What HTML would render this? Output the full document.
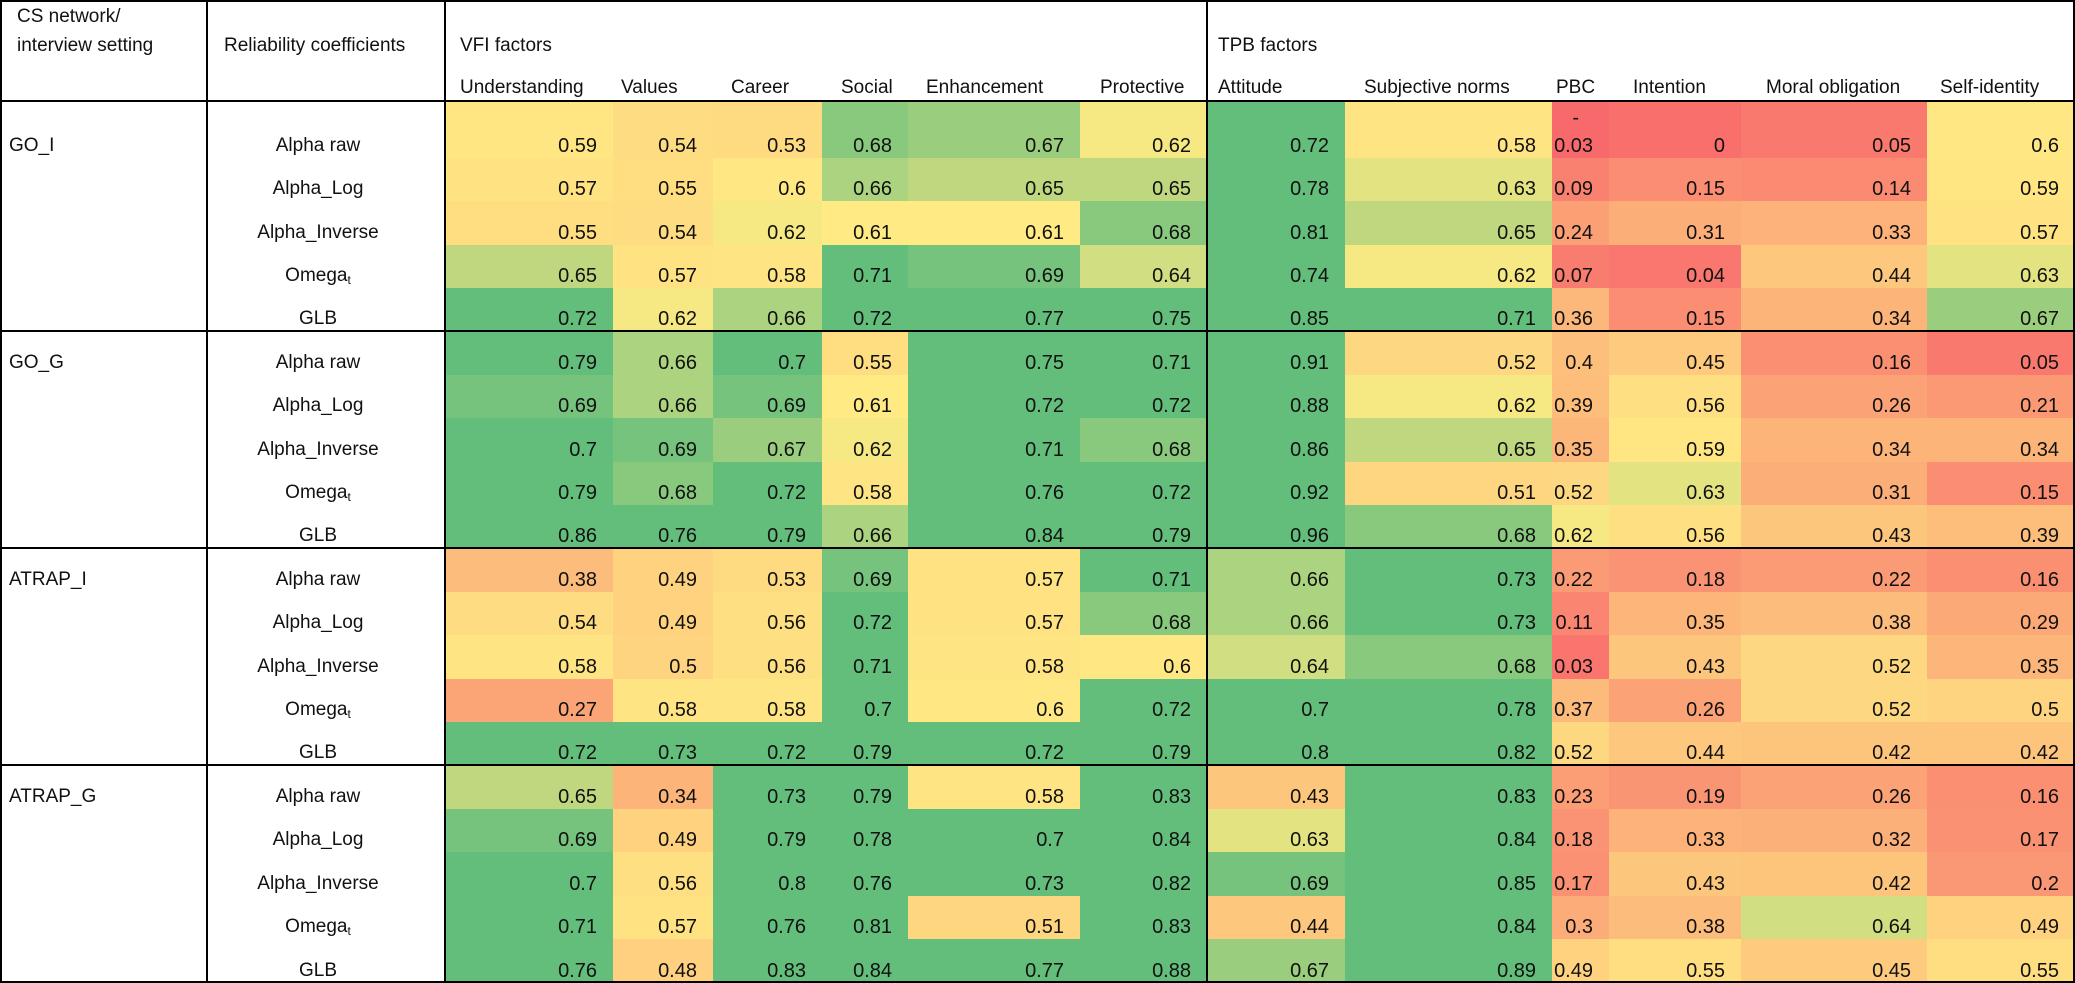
<!DOCTYPE html>
<html><head><meta charset="utf-8">
<style>
html,body{margin:0;padding:0;background:#fff;}
#wrap{position:relative;width:2075px;height:983px;overflow:hidden;font-family:"Liberation Sans",sans-serif;color:#111;}
.cell{position:absolute;}
.t{position:absolute;white-space:nowrap;font-size:19px;line-height:24px;}
.num{font-size:20px;text-align:right;}
.ln{position:absolute;background:#000;}
</style></head><body>
<div id="wrap"></div>
<script>
const groups = ["GO_I","GO_G","ATRAP_I","ATRAP_G"];
const coefficients = ["Alpha raw","Alpha_Log","Alpha_Inverse","Omega","GLB"];
const vfiFactors = ["Understanding","Values","Career","Social","Enhancement","Protective"];
const tpbFactors = ["Attitude","Subjective norms","PBC","Intention","Moral obligation","Self-identity"];
const values = [
[0.59,0.54,0.53,0.68,0.67,0.62, 0.72,0.58,-0.03,0,0.05,0.6],
[0.57,0.55,0.6,0.66,0.65,0.65, 0.78,0.63,0.09,0.15,0.14,0.59],
[0.55,0.54,0.62,0.61,0.61,0.68, 0.81,0.65,0.24,0.31,0.33,0.57],
[0.65,0.57,0.58,0.71,0.69,0.64, 0.74,0.62,0.07,0.04,0.44,0.63],
[0.72,0.62,0.66,0.72,0.77,0.75, 0.85,0.71,0.36,0.15,0.34,0.67],
[0.79,0.66,0.7,0.55,0.75,0.71, 0.91,0.52,0.4,0.45,0.16,0.05],
[0.69,0.66,0.69,0.61,0.72,0.72, 0.88,0.62,0.39,0.56,0.26,0.21],
[0.7,0.69,0.67,0.62,0.71,0.68, 0.86,0.65,0.35,0.59,0.34,0.34],
[0.79,0.68,0.72,0.58,0.76,0.72, 0.92,0.51,0.52,0.63,0.31,0.15],
[0.86,0.76,0.79,0.66,0.84,0.79, 0.96,0.68,0.62,0.56,0.43,0.39],
[0.38,0.49,0.53,0.69,0.57,0.71, 0.66,0.73,0.22,0.18,0.22,0.16],
[0.54,0.49,0.56,0.72,0.57,0.68, 0.66,0.73,0.11,0.35,0.38,0.29],
[0.58,0.5,0.56,0.71,0.58,0.6, 0.64,0.68,0.03,0.43,0.52,0.35],
[0.27,0.58,0.58,0.7,0.6,0.72, 0.7,0.78,0.37,0.26,0.52,0.5],
[0.72,0.73,0.72,0.79,0.72,0.79, 0.8,0.82,0.52,0.44,0.42,0.42],
[0.65,0.34,0.73,0.79,0.58,0.83, 0.43,0.83,0.23,0.19,0.26,0.16],
[0.69,0.49,0.79,0.78,0.7,0.84, 0.63,0.84,0.18,0.33,0.32,0.17],
[0.7,0.56,0.8,0.76,0.73,0.82, 0.69,0.85,0.17,0.43,0.42,0.2],
[0.71,0.57,0.76,0.81,0.51,0.83, 0.44,0.84,0.3,0.38,0.64,0.49],
[0.76,0.48,0.83,0.84,0.77,0.88, 0.67,0.89,0.49,0.55,0.45,0.55]
];

const wrap = document.getElementById('wrap');
const colX = [445,613,713,822,908,1080,1207,1345,1552,1609,1741,1927,2075];
const headX = [460,621,731,841,926,1100,1218,1364,1556,1633,1766,1940];
const rowTop = [];
(function(){
  let y=101;
  for(let g=0; g<groups.length; g++){
    const gh = g===0 ? 230 : 217;
    const first = g===0 ? 57 : (gh-4*43.25);
    rowTop.push(y); let yy=y+first;
    for(let r=1;r<5;r++){ rowTop.push(yy); yy+= g===0?43.25:43.25; }
    y+=gh;
  }
  rowTop.push(983);
})();

function lerp(a,b,t){return Math.round(a+(b-a)*t);}
function mix(c1,c2,t){return 'rgb('+lerp(c1[0],c2[0],t)+','+lerp(c1[1],c2[1],t)+','+lerp(c1[2],c2[2],t)+')';}
const RED=[248,105,107], YEL=[255,235,132], GRN=[99,190,123];
function colorFor(v){
  const lo=-0.03, mid=0.615, hi=0.70;
  if(v<=lo) return mix(RED,RED,0);
  if(v<mid) return mix(RED,YEL,(v-lo)/(mid-lo));
  if(v<hi) return mix(YEL,GRN,(v-mid)/(hi-mid));
  return mix(GRN,GRN,0);
}
function addText(txt,x,y,cls){
  const d=document.createElement('div');
  d.className='t '+(cls||'');
  d.style.left=x+'px'; d.style.top=y+'px';
  d.innerHTML=txt;
  wrap.appendChild(d);
  return d;
}

// header
let h;
h=addText('CS network/',17,5);  
h=addText('interview setting',17,34);  
h=addText('Reliability coefficients',224,34);  
h=addText('VFI factors',460,34);  
h=addText('TPB factors',1218,34);  
const allFactors = vfiFactors.concat(tpbFactors);
for(let c=0;c<allFactors.length;c++){
  h=addText(allFactors[c],headX[c],76);
  
  
}

// cells
for(let r=0;r<values.length;r++){
  const top=rowTop[r], bot=rowTop[r+1];
  for(let c=0;c<12;c++){
    const v=values[r][c];
    const cell=document.createElement('div');
    cell.className='cell';
    
    
    cell.style.left=colX[c]+'px'; cell.style.top=top+'px';
    cell.style.width=(colX[c+1]-colX[c])+'px'; cell.style.height=(bot-top)+'px';
    cell.style.background=colorFor(v);
    wrap.appendChild(cell);
    const txt = v<0 ? String(Math.abs(v)) : String(v);
    const n=document.createElement('div');
    n.className='t num';
    
    
    n.style.left=colX[c]+'px'; n.style.width=(colX[c+1]-colX[c]-16)+'px';
    n.style.top=(bot-12-12)+'px';
    n.textContent=txt.replace(/^0(?=\.)/,'0');
    wrap.appendChild(n);
    if(v<0){
      const m=document.createElement('div');
      m.className='t num';
      
      
      m.style.left=colX[c]+'px'; m.style.width=(colX[c+1]-colX[c]-30)+'px';
      m.style.top=(bot-12-40)+'px';
      m.textContent='-';
      wrap.appendChild(m);
    }
  }
  const k=r%5;
  const lab=document.createElement('div');
  lab.className='t';
  
  
  lab.style.left='207px'; lab.style.width='222px'; lab.style.textAlign='center';
  lab.style.top=(bot-24)+'px';
  lab.innerHTML = coefficients[k]==='Omega' ? 'Omega<sub style="font-size:12px;vertical-align:-3px">t</sub>' : coefficients[k];
  wrap.appendChild(lab);
  if(k===0){
    const g=addText(groups[r/5],9,bot-24);
    
    
  }
}

// lines
function line(x,y,w,hh,name){
  const l=document.createElement('div');
  l.className='ln';
  
  
  l.style.left=x+'px'; l.style.top=y+'px'; l.style.width=w+'px'; l.style.height=hh+'px';
  wrap.appendChild(l);
}
line(0,0,2075,2,'top-border');
line(0,981,2075,2,'bottom-border');
line(0,100,2075,2,'header-divider');
[330,547,764].forEach(y=>line(0,y,2075,2,'group-divider'));
line(0,0,2,983,'left-border');
line(2073,0,2,983,'right-border');
[206,444,1206].forEach(x=>line(x,0,2,983,'column-divider'));
</script>
</body></html>
